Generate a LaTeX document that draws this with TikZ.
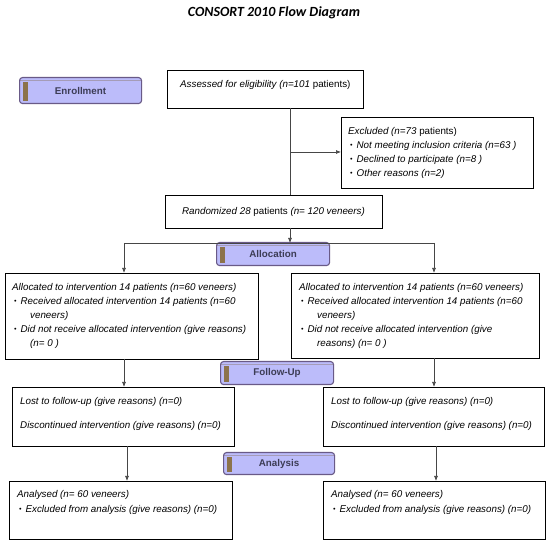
\documentclass[tikz,border=0pt]{standalone}
\usepackage{fontspec}
\setmainfont{Liberation Sans}
\newfontfamily\titlefont{Carlito}
\usetikzlibrary{arrows.meta}

\definecolor{stagefill}{RGB}{188,188,250}
\definecolor{stageline}{RGB}{105,90,135}
\definecolor{stagebar}{RGB}{140,115,75}
\definecolor{stagetext}{RGB}{60,60,85}
\definecolor{linegray}{RGB}{70,70,70}

\newcommand{\bul}{\hspace*{2pt}\raisebox{0.6pt}{\scriptsize\textbullet}\hspace{4pt}}
\newcommand{\cont}{\hspace*{18pt}}

\tikzset{
	body/.style={font=\fontsize{9.8}{14}\selectfont\itshape},
	box/.style={draw, line width=0.9pt, anchor=north west, inner sep=0pt, outer sep=0pt},
	txt/.style={body, anchor=north west, inner sep=0pt, align=left},
	stage/.style={draw=stageline, line width=1.1pt, fill=stagefill, rounded corners=3pt,
		anchor=north west, inner sep=0pt, text=stagetext,
		font=\fontsize{9.8}{11}\selectfont\bfseries,
		path picture={
			\fill[stagebar, sharp corners] ([shift={(3pt,-4pt)}]path picture bounding box.north west)
				rectangle ([shift={(8.5pt,3pt)}]path picture bounding box.south west);
			\draw[stageline!60, line width=0.8pt] ([yshift=-3pt]path picture bounding box.north west)
				-- ([yshift=-3pt]path picture bounding box.north east);
		}},
	link/.style={draw=linegray, line width=0.7pt},
	arr/.style={link, -{Latex[length=5pt,width=4pt]}}
}

\begin{document}
\begin{tikzpicture}[x=1pt,y=-1pt]
		\useasboundingbox (0,0) rectangle (550,545);

		\node[font=\titlefont\fontsize{14}{16}\selectfont\bfseries\itshape] (title) at (274,13) {CONSORT 2010 Flow Diagram};

		\foreach \name/\x/\y/\w/\h/\stagename in {enrol/19/77/122/26/Enrollment, alloc/216/242/113/23/Allocation, follow/220/361/113/23/Follow-Up, anal/223/452/111/22/Analysis}
		{
			\node[stage, minimum width=\w pt, minimum height=\h pt] (\name) at (\x,\y) {\stagename};
		}

		\node[box, minimum width=196pt, minimum height=38pt] (assess) at (167,70) {};
		\node[txt] (assessT) at ([shift={(13,10)}]assess.north west) {Assessed for eligibility (n=101 \textup{patients)}};

		\node[box, minimum width=192pt, minimum height=71pt] (excl) at (341,117) {};
		\node[txt] (exclT) at ([shift={(7,10)}]excl.north west) {Excluded (n=73 \textup{patients)}\\
			\bul Not meeting inclusion criteria (n=63 )\\
			\bul Declined to participate (n=8 )\\
			\bul Other reasons (n=2)};

		\node[box, body, minimum width=217pt, minimum height=33pt] (rand) at (165,195) {Randomized 28 \textup{patients} (n= 120 veneers)};

		\node[box, minimum width=253pt, minimum height=86pt] (allocL) at (5,273) {};
		\node[txt] (allocLT) at ([shift={(7,10)}]allocL.north west) {Allocated to intervention 14 patients (n=60 veneers)\\
			\bul Received allocated intervention 14 patients (n=60\\
			\cont veneers)\\
			\bul Did not receive allocated intervention (give reasons)\\
			\cont (n= 0 )};

		\node[box, minimum width=248pt, minimum height=85pt] (allocR) at (291,273) {};
		\node[txt] (allocRT) at ([shift={(8,10)}]allocR.north west) {Allocated to intervention 14 patients (n=60 veneers)\\
			\bul Received allocated intervention 14 patients (n=60\\
			\cont veneers)\\
			\bul Did not receive allocated intervention (give\\
			\cont reasons) (n= 0 )};

		\node[box, minimum width=222pt, minimum height=59pt] (followL) at (12,387) {};
		\node[txt] (followLT) at ([shift={(8,10)}]followL.north west) {Lost to follow-up (give reasons) (n=0)\\[10pt]
			Discontinued intervention (give reasons) (n=0)};

		\node[box, minimum width=221pt, minimum height=59pt] (followR) at (323,387) {};
		\node[txt] (followRT) at ([shift={(8,10)}]followR.north west) {Lost to follow-up (give reasons) (n=0)\\[10pt]
			Discontinued intervention (give reasons) (n=0)};

		\node[box, minimum width=223pt, minimum height=58pt] (analL) at (9,481) {};
		\node[txt] (analLT) at ([shift={(8,9)}]analL.north west) {Analysed (n= 60 veneers)\\[1pt]
			\bul Excluded from analysis (give reasons) (n=0)};

		\node[box, minimum width=222pt, minimum height=58pt] (analR) at (323,481) {};
		\node[txt] (analRT) at ([shift={(8,9)}]analR.north west) {Analysed (n= 60 veneers)\\[1pt]
			\bul Excluded from analysis (give reasons) (n=0)};

		\coordinate (trunk) at (290,152);
		\coordinate (split) at (290,243);
		\coordinate (colL) at (124,243);
		\coordinate (colR) at (434,243);
		\coordinate (colL2) at (127,446);
		\coordinate (colR2) at (436,446);

		\draw[link] (assess.south -| trunk) -- (rand.north -| trunk);
		\draw[arr] (trunk) -- (excl.west |- trunk);
		\draw[arr] (rand.south -| split) -- (split);
		\draw[link] (colL) -- (colR);
		\draw[arr] (colL) -- (allocL.north -| colL);
		\draw[arr] (colR) -- (allocR.north -| colR);
		\draw[arr] (allocL.south -| colL) -- (followL.north -| colL);
		\draw[arr] (allocR.south -| colR) -- (followR.north -| colR);
		\draw[arr] (followL.south -| colL2) -- (analL.north -| colL2);
		\draw[arr] (followR.south -| colR2) -- (analR.north -| colR2);
	\end{tikzpicture}
\end{document}
